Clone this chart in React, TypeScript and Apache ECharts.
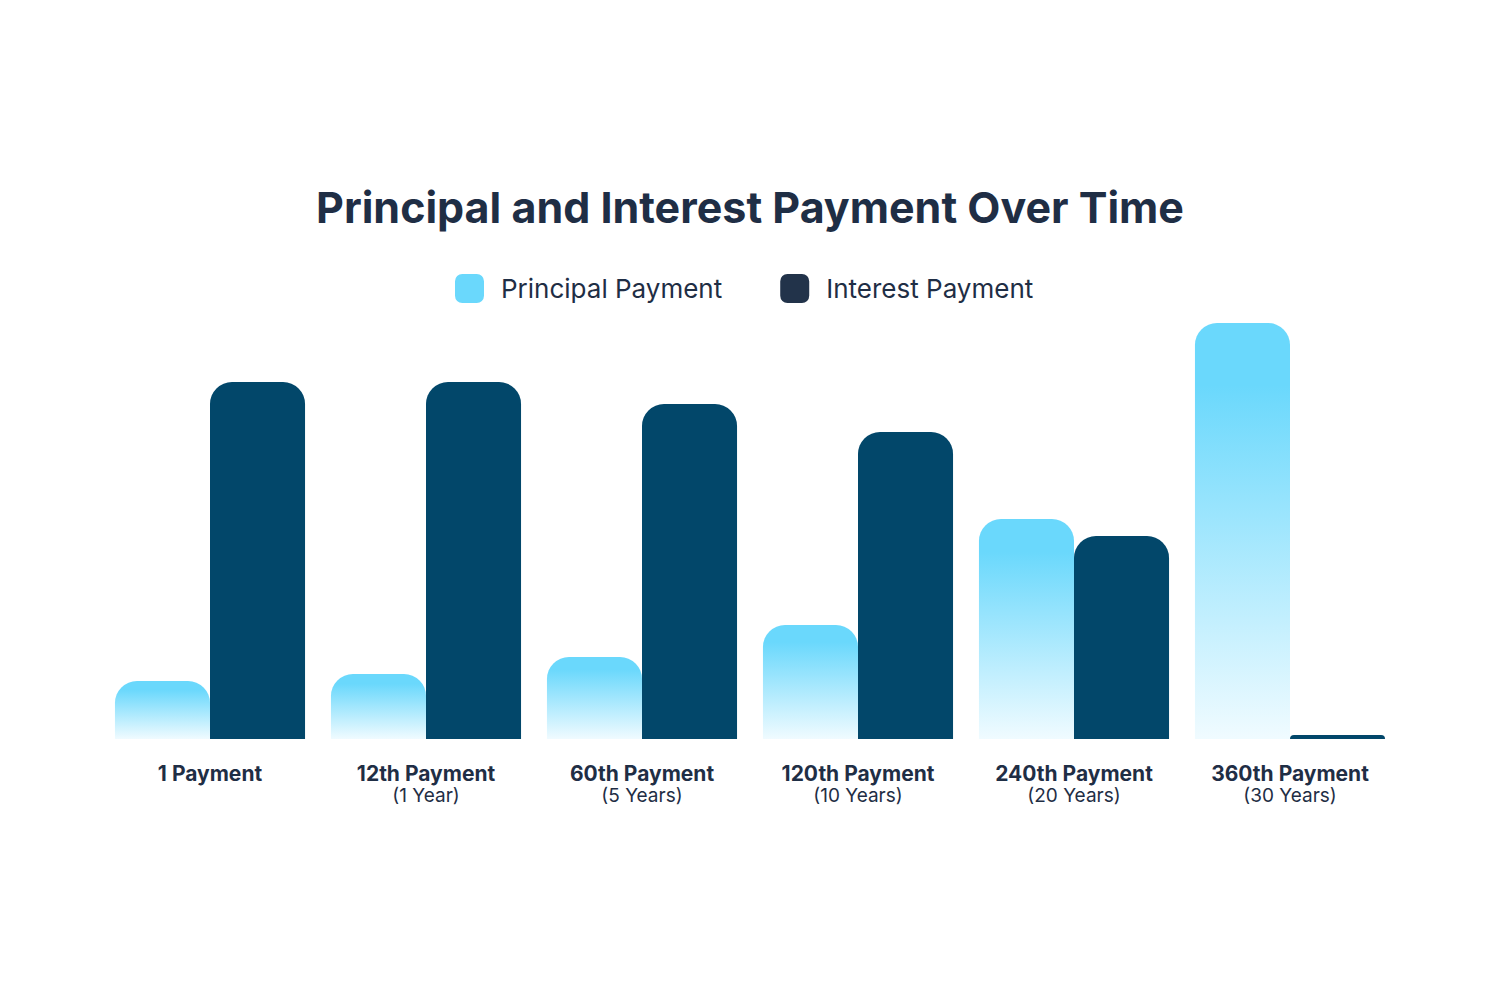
import React, { useEffect, useRef } from 'react'
import * as echarts from 'echarts'

const categories = ['1 Payment', '12th Payment', '60th Payment', '120th Payment', '240th Payment', '360th Payment']
const subLabels = ['', '(1 Year)', '(5 Years)', '(10 Years)', '(20 Years)', '(30 Years)']
const principal = [58, 65, 82, 114, 220, 416]
const interest = [357, 357, 335, 307, 203, 4]

const FONT = 'Inter, "Open Sans", sans-serif'
const TEXT = '#1f2e45'

export default function App(): JSX.Element {
  const ref = useRef<HTMLDivElement>(null)

  useEffect(() => {
    document.body.style.margin = '0'
    if (!ref.current) return
    const chart = echarts.init(ref.current, undefined, { renderer: 'svg' })
    chart.setOption({
      animation: false,
      backgroundColor: '#ffffff',
      title: {
        text: 'Principal and Interest Payment Over Time',
        left: 'center', top: 180,
        textStyle: { fontFamily: FONT, fontSize: 43, fontWeight: 'bold', color: TEXT },
      },
      legend: {
        top: 269, left: 450,
        itemWidth: 29, itemHeight: 29, itemGap: 58,
        icon: 'roundRect',
        textStyle: { fontFamily: FONT, fontSize: 26, color: TEXT, padding: [0, 0, 0, 12] },
        data: [
          { name: 'Principal Payment', itemStyle: { color: '#6ad8fc' } },
          { name: 'Interest Payment', itemStyle: { color: '#22334a' } },
        ],
      },
      grid: { left: 102, right: 102, top: 319, bottom: 261 },
      xAxis: {
        type: 'category',
        data: categories.map((c, i) => subLabels[i] ? `{a|${c}}\n{b|${subLabels[i]}}` : `{a|${c}}`),
        axisLine: { show: false }, axisTick: { show: false },
        axisLabel: {
          margin: 23, interval: 0,
          rich: {
            a: { fontFamily: FONT, fontSize: 21, fontWeight: 'bold', color: TEXT, lineHeight: 22 },
            b: { fontFamily: FONT, fontSize: 19, color: TEXT, lineHeight: 22 },
          },
        },
      },
      yAxis: { type: 'value', min: 0, max: 420, show: false, splitLine: { show: false } },
      series: [
        {
          name: 'Principal Payment', type: 'bar', data: principal,
          barGap: '0%', barCategoryGap: '12%',
          itemStyle: {
            borderRadius: [22, 22, 0, 0],
            color: new echarts.graphic.LinearGradient(0, 0, 0, 1, [
              { offset: 0, color: '#6ad8fc' },
              { offset: 0.15, color: '#6ad8fc' },
              { offset: 1, color: '#f0fbff' },
            ]),
          },
        },
        {
          name: 'Interest Payment', type: 'bar', data: interest,
          itemStyle: { borderRadius: [22, 22, 0, 0], color: '#02476a' },
        },
      ],
    })
    return () => { chart.dispose() }
  }, [])

  return <div ref={ref} style={{ width: 1500, height: 1000 }} />
}
